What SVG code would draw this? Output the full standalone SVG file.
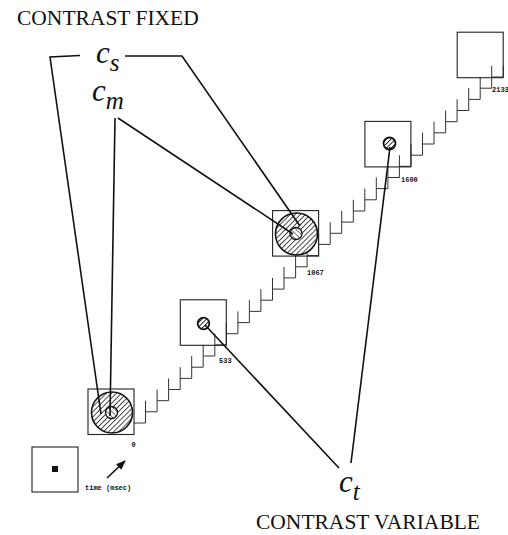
<svg xmlns="http://www.w3.org/2000/svg" width="508" height="535" viewBox="0 0 508 535">
<defs>
<style>
.title{font-family:"Liberation Serif",serif;font-size:21.5px;fill:#111}
.var{font-family:"Liberation Serif",serif;font-style:italic;font-size:31px;fill:#111}
.sub{font-family:"Liberation Serif",serif;font-style:italic;font-size:25px;fill:#111}
.tick{font-family:"Liberation Mono",monospace;font-size:7px;font-weight:bold;fill:#111}
.frame{fill:none;stroke:#222;stroke-width:1.1}
.stair{fill:none;stroke:#333;stroke-width:1}
.conn{fill:none;stroke:#111;stroke-width:1.6}
.big{fill:url(#hatch);stroke:#111;stroke-width:1.6}
.inner{fill:url(#hatch2);stroke:#111;stroke-width:1.3}
.small{fill:url(#hatch3);stroke:#111;stroke-width:1.8}
</style>
<pattern id="hatch" width="3.6" height="3.6" patternUnits="userSpaceOnUse" patternTransform="rotate(45)">
<rect width="3.6" height="3.6" fill="#fff"/>
<line x1="0" y1="0" x2="0" y2="3.6" stroke="#111" stroke-width="1.5"/>
</pattern>
<pattern id="hatch2" width="3.6" height="3.6" patternUnits="userSpaceOnUse" patternTransform="rotate(-45)">
<rect width="3.6" height="3.6" fill="#fff"/>
<line x1="0" y1="0" x2="0" y2="3.6" stroke="#111" stroke-width="1.1"/>
</pattern>
<pattern id="hatch3" width="3.2" height="3.2" patternUnits="userSpaceOnUse" patternTransform="rotate(45)">
<rect width="3.2" height="3.2" fill="#fff"/>
<line x1="0" y1="0" x2="0" y2="3.2" stroke="#111" stroke-width="1.7"/>
</pattern>
<marker id="arr" viewBox="0 0 10 10" refX="9" refY="5" markerWidth="6" markerHeight="6" orient="auto">
<path d="M0 1 L10 5 L0 9 z" fill="#111"/>
</marker>
</defs>
<rect width="508" height="535" fill="#fff"/>

<g id="staircase">
<path class="stair" d="M134 423 H145.5 V411.8 H157.1 V400.7 H168.6 V389.5 H180.2 V378.4 H191.7 V367.2 H203.2 V356 H214.8 V344.9 H226.3 V333.7 H237.9 V322.6 H249.4 V311.4 H260.9 V300.2 H272.5 V289.1 H284 V277.9 H295.6 V266.8 H307.1 V255.6 H318.6 V244.4 H330.2 V233.3 H341.7 V222.1 H353.3 V211 H364.8 V199.8 H376.3 V188.6 H387.9 V177.5 H399.4 V166.3 H411 V155.2 H422.5 V144 H434 V132.8 H445.6 V121.7 H457.1 V110.5 H468.7 V99.4 H480.2 V88.2 H491.7 V77 H503.3 V65.9"/>
<path class="stair" d="M145.5 411.8V400.7 M157.1 400.7V389.5 M168.6 389.5V378.4 M180.2 378.4V367.2 M191.7 367.2V356 M203.2 356V344.9 M214.8 344.9V333.7 M226.3 333.7V322.6 M237.9 322.6V311.4 M249.4 311.4V300.2 M260.9 300.2V289.1 M272.5 289.1V277.9 M284 277.9V266.8 M295.6 266.8V255.6 M307.1 255.6V244.4 M318.6 244.4V233.3 M330.2 233.3V222.1 M341.7 222.1V211 M353.3 211V199.8 M364.8 199.8V188.6 M376.3 188.6V177.5 M387.9 177.5V166.3 M399.4 166.3V155.2 M411 155.2V144 M422.5 144V132.8 M434 132.8V121.7 M445.6 121.7V110.5 M457.1 110.5V99.4 M468.7 99.4V88.2 M480.2 88.2V77 M491.7 77V65.9"/>
</g>

<g id="legend">
<rect class="frame" x="32" y="447" width="46" height="45"/>
<rect x="52" y="466" width="6" height="6" fill="#111"/>
<text class="tick" x="85" y="490">time (msec)</text>
</g>

<g id="frame-0">
<rect class="frame" x="88" y="389" width="46" height="45.5"/>
<circle class="big" cx="112" cy="412.5" r="20.5"/>
<circle class="inner" cx="111.5" cy="412.5" r="6"/>
<text class="tick" x="131.5" y="447">0</text>
</g>

<g id="frame-533">
<rect class="frame" x="180.3" y="299.8" width="46" height="45.5"/>
<circle class="small" cx="203.5" cy="323.5" r="5.8"/>
<text class="tick" x="219" y="363">533</text>
</g>

<g id="frame-1067">
<rect class="frame" x="272.6" y="210.6" width="46" height="45.5"/>
<circle class="big" cx="296.5" cy="234" r="21"/>
<circle class="inner" cx="296" cy="233.5" r="6"/>
<text class="tick" x="307" y="275">1067</text>
</g>

<g id="frame-1600">
<rect class="frame" x="364.9" y="121.4" width="46" height="45.5"/>
<circle class="small" cx="389.5" cy="143.5" r="6"/>
<text class="tick" x="401" y="182">1600</text>
</g>

<g id="frame-2133">
<rect class="frame" x="457.2" y="32.2" width="46" height="45.5"/>
<text class="tick" x="492" y="92">2133</text>
</g>

<g id="connectors">
<polyline class="conn" points="80,55.5 50,57 101,414"/>
<polyline class="conn" points="125,56 182,56 300,226"/>
<line class="conn" x1="115" y1="118" x2="110" y2="416"/>
<line class="conn" x1="118" y1="118" x2="293" y2="234"/>
<line class="conn" x1="339" y1="468" x2="205" y2="325"/>
<line class="conn" x1="351" y1="463" x2="390" y2="147"/>
<line class="conn" x1="107" y1="478" x2="125" y2="461" stroke-width="1" marker-end="url(#arr)"/>
</g>

<g id="labels">
<text class="title" x="17" y="25">CONTRAST FIXED</text>
<text class="title" x="256" y="529">CONTRAST VARIABLE</text>
<text id="c_s" x="96" y="63"><tspan class="var">c</tspan><tspan class="sub" dy="8">s</tspan></text>
<text id="c_m" x="92" y="101"><tspan class="var">c</tspan><tspan class="sub" dy="8">m</tspan></text>
<text id="c_t" x="339" y="492"><tspan class="var">c</tspan><tspan class="sub" dy="8">t</tspan></text>
</g>
</svg>
